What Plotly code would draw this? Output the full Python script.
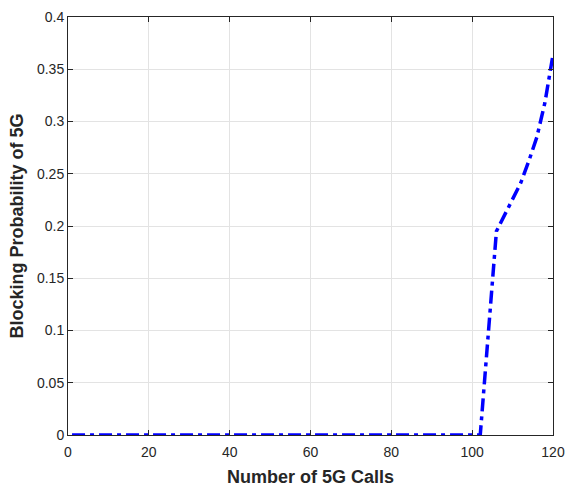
import plotly.graph_objects as go

calls = [1, 102, 106, 108, 110, 112, 114, 116, 118, 120]
blocking = [0, 0, 0.195, 0.21, 0.225, 0.241, 0.262, 0.285, 0.318, 0.364]
x_ticks = [0, 20, 40, 60, 80, 100, 120]
y_ticks = [0, 0.05, 0.1, 0.15, 0.2, 0.25, 0.3, 0.35, 0.4]
y_labels = ["0", "0.05", "0.1", "0.15", "0.2", "0.25", "0.3", "0.35", "0.4"]

fig = go.Figure()
fig.add_trace(go.Scatter(x=calls, y=blocking, mode="lines", cliponaxis=False,
                         line=dict(color="#0000ff", width=3.5, dash="13px,5px,4px,5px")))

axis_common = dict(showline=True, linecolor="#262626", linewidth=1, mirror="ticks",
                   ticks="inside", ticklen=5, tickcolor="#262626", automargin=False,
                   showgrid=True, gridcolor="#e3e3e3", gridwidth=1, zeroline=False,
                   tickfont=dict(family="Liberation Sans, Arial", size=14, color="#262626"))

fig.update_layout(
    width=567, height=487,
    margin=dict(l=68, r=14, t=17, b=52),
    paper_bgcolor="white", plot_bgcolor="white",
    showlegend=False,
    xaxis=dict(range=[0, 120], tickvals=x_ticks, ticklabelstandoff=4,
               title=dict(text="<b>Number of 5G Calls</b>", standoff=12,
                          font=dict(family="Liberation Sans, Arial", size=18, color="#262626")),
               **axis_common),
    yaxis=dict(range=[0, 0.4], tickvals=y_ticks, ticktext=y_labels,
               title=dict(text="<b>Blocking Probability of 5G</b>", standoff=8,
                          font=dict(family="Liberation Sans, Arial", size=18, color="#262626")),
               **axis_common),
)

fig.write_html("out.html")
